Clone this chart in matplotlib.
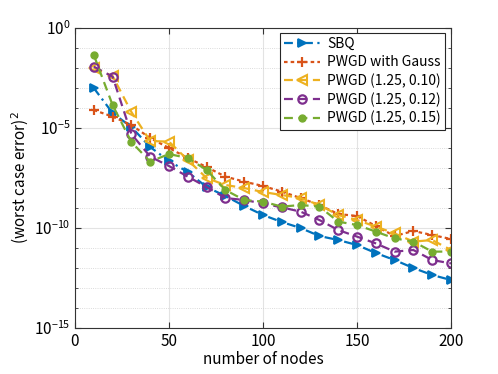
import numpy as np
import matplotlib
matplotlib.use('Agg')
import matplotlib.pyplot as plt
from matplotlib.ticker import NullFormatter

plt.rcParams['font.family'] = ['Noto Sans CJK JP', 'DejaVu Sans']
plt.rcParams['mathtext.fontset'] = 'dejavusans'

nodes = np.arange(10, 201, 10)

# log10 of the worst case error squared
sbq = [-3.0, -4.25, -4.95, -5.95, -6.65, -7.2, -7.95, -8.4, -8.9, -9.35,
       -9.7, -10.0, -10.4, -10.6, -10.85, -11.25, -11.6, -12.0, -12.35, -12.6]
gauss = [-4.1, -4.43, -4.85, -5.5, -6.0, -6.5, -6.95, -7.43, -7.68, -7.9,
         -8.18, -8.5, -8.85, -9.3, -9.4, -9.9, -10.4, -10.15, -10.35, -10.55]
p010 = [-2.0, -2.4, -4.2, -5.65, -5.68, -6.6, -7.5, -7.85, -8.0, -8.2,
        -8.35, -8.5, -8.85, -9.35, -9.6, -9.93, -10.27, -10.68, -10.6, -11.1]
p012 = [-1.93, -2.43, -5.3, -6.43, -6.9, -7.43, -7.95, -8.5, -8.6, -8.77,
        -8.97, -9.18, -9.6, -10.1, -10.43, -10.77, -11.18, -11.1, -11.6, -11.77]
p015 = [-1.35, -3.85, -5.7, -6.68, -6.3, -6.5, -7.1, -8.1, -8.6, -8.68,
        -8.93, -8.85, -8.93, -9.68, -9.85, -10.18, -10.52, -10.68, -11.18, -11.18]

labels = ['SBQ', 'PWGD with Gauss', 'PWGD (1.25, 0.10)',
          'PWGD (1.25, 0.12)', 'PWGD (1.25, 0.15)']

fig = plt.figure(figsize=(4.98, 3.74), dpi=100)
ax = fig.add_axes([0.1506, 0.123, 0.755, 0.802])

ax.semilogy(nodes, 10.0**np.array(sbq), color='#0072BD', lw=1.6,
            dashes=(4, 2, 1, 2), marker='>', ms=6, mew=1.3, mfc='#0072BD',
            label=labels[0])
ax.semilogy(nodes, 10.0**np.array(gauss), color='#D95319', lw=1.6,
            dashes=(1.6, 1.4), marker='+', ms=7, mew=1.6, label=labels[1])
ax.semilogy(nodes, 10.0**np.array(p010), color='#EDB120', lw=1.6,
            dashes=(4, 2.5), marker='<', ms=6.5, mew=1.5, mfc='none',
            label=labels[2])
ax.semilogy(nodes, 10.0**np.array(p012), color='#7E2F8E', lw=1.6,
            dashes=(4, 2.5), marker='o', ms=6, mew=1.6, mfc='none',
            label=labels[3])
ax.semilogy(nodes, 10.0**np.array(p015), color='#77AC30', lw=1.6,
            dashes=(4, 2.5), marker='o', ms=5, mfc='#77AC30',
            label=labels[4])

ax.set_xlim(0, 200)
ax.set_ylim(1e-15, 1)
ax.set_xticks([0, 50, 100, 150, 200])
ax.set_yticks([1e-15, 1e-10, 1e-5, 1e0])
ax.set_yticks([10.0**k for k in range(-14, 0) if k % 5 != 0], minor=True)
ax.yaxis.set_minor_formatter(NullFormatter())

ax.grid(True, which='major', color='#e3e3e3', lw=0.8, ls='-')
ax.grid(True, which='minor', axis='y', color='#cfcfcf', lw=0.6, ls=':')
ax.set_axisbelow(True)
ax.tick_params(which='both', direction='in', top=True, right=True,
               labelsize=11, color='#333333')
ax.tick_params(which='major', length=4)
ax.tick_params(which='minor', length=2.5)
for s in ax.spines.values():
    s.set_color('#333333')
    s.set_linewidth(0.8)

ax.set_xlabel('number of nodes', fontsize=11, labelpad=1)
ax.set_ylabel('(worst case error)$^2$', fontsize=11, labelpad=2)

leg = ax.legend(loc='upper right', fontsize=10, fancybox=False,
                edgecolor='#262626', framealpha=1, handlelength=2.6,
                borderpad=0.3, labelspacing=0.3, handletextpad=0.5,
                borderaxespad=0, bbox_to_anchor=(0.984, 0.983))
leg.get_frame().set_linewidth(0.8)

fig.savefig('out.png', dpi=100)
